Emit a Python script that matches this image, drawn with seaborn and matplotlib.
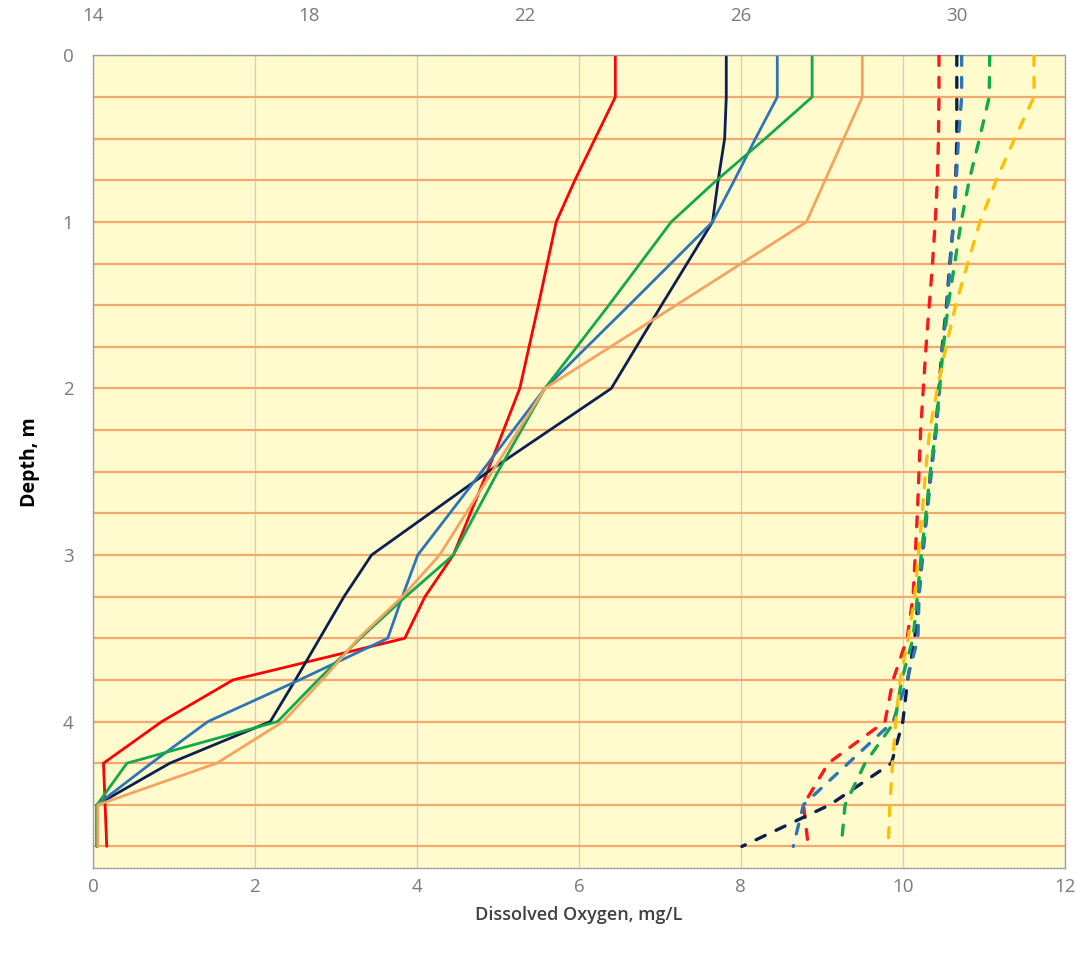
import matplotlib
matplotlib.use("Agg")
import matplotlib.pyplot as plt
import numpy as np
import pandas as pd
import seaborn as sns

# ---- data -------------------------------------------------------------
profiles = ["Profile A", "Profile B", "Profile C", "Profile D", "Profile E"]

# dissolved oxygen profiles (mg/L) vs depth (m)
do_depth = [0, 0.25, 0.5, 0.75, 1.0, 1.5, 2.0, 2.5, 3.0, 3.25, 3.5, 3.75,
            4.0, 4.25, 4.5, 4.75]
do_a = [6.45, 6.45, 6.20, 5.95, 5.72, 5.50, 5.27, 4.87, 4.45, 4.10, 3.85,
        1.73, 0.85, 0.13, 0.15, 0.17]
do_b = [7.82, 7.82, 7.80, 7.72, 7.65, 7.02, 6.40, 4.88, 3.44, 3.10, 2.80,
        2.50, 2.19, 0.95, 0.05, 0.05]
do_c = [8.45, 8.45, 8.18, 7.92, 7.65, 6.62, 5.58, 4.80, 4.01, 3.82, 3.64,
        2.55, 1.42, 0.72, 0.05, 0.05]
do_d = [8.88, 8.88, 8.30, 7.70, 7.14, 6.37, 5.58, 5.00, 4.45, 3.86, 3.30,
        2.78, 2.28, 0.42, 0.05, 0.05]
do_e = [9.50, 9.50, 9.27, 9.04, 8.81, 7.20, 5.58, 4.93, 4.28, 3.82, 3.28,
        2.83, 2.35, 1.53, 0.06, 0.06]

# water temperature profiles (deg C) vs depth (m)
t_depth = [0, 0.25, 0.5, 0.75, 1.0, 1.25, 1.5, 1.75, 2.0, 2.25, 2.5, 2.75,
           3.0, 3.25, 3.5, 3.75, 4.0, 4.25, 4.5, 4.75]
t_a = [29.67, 29.67, 29.66, 29.64, 29.60, 29.55, 29.49, 29.43, 29.38, 29.33,
       29.30, 29.27, 29.23, 29.19, 29.08, 28.82, 28.67, 27.62, 27.16, 27.25]
t_b = [30.00, 30.00, 30.00, 29.98, 29.94, 29.87, 29.81, 29.73, 29.67, 29.61,
       29.52, 29.44, 29.36, 29.29, 29.22, 29.09, 29.00, 28.79, 27.65, 26.02]
t_c = [30.09, 30.09, 30.03, 29.99, 29.94, 29.88, 29.82, 29.74, 29.68, 29.62,
       29.53, 29.45, 29.37, 29.30, 29.28, 29.08, 28.82, 27.99, 27.16, 26.97]
t_d = [30.61, 30.60, 30.42, 30.23, 30.08, 29.96, 29.84, 29.75, 29.68, 29.61,
       29.51, 29.43, 29.34, 29.27, 29.19, 28.98, 28.85, 28.30, 27.93, 27.86]
t_e = [31.43, 31.43, 31.07, 30.73, 30.43, 30.20, 29.98, 29.80, 29.64, 29.50,
       29.42, 29.36, 29.29, 29.22, 29.10, 28.95, 28.87, 28.81, 28.76, 28.73]

do_ticks = [0, 2, 4, 6, 8, 10, 12]
t_ticks = [14, 18, 22, 26, 30]
depth_ticks = [0, 1, 2, 3, 4]

do_colors = ["#ff0000", "#0d1f4f", "#2e75b6", "#13a84a", "#f4a460"]
t_colors = ["#ff1a1a", "#0d1f4f", "#2e75b6", "#13a84a", "#ffc000"]

# ---- long-form tables -------------------------------------------------
do_df = pd.concat(
    [pd.DataFrame({"profile": p, "depth": do_depth, "do": v})
     for p, v in zip(profiles, [do_a, do_b, do_c, do_d, do_e])],
    ignore_index=True)
t_df = pd.concat(
    [pd.DataFrame({"profile": p, "depth": t_depth, "temp": v})
     for p, v in zip(profiles, [t_a, t_b, t_c, t_d, t_e])],
    ignore_index=True)

# ---- style ------------------------------------------------------------
sns.set_theme(style="white")
plt.rcParams["font.family"] = ["Open Sans", "DejaVu Sans"]

fig = plt.figure(figsize=(10.81, 9.55), dpi=100)
ax = fig.add_axes([0.086, 0.091, 0.899, 0.851])
ax.set_facecolor("#fffbcc")

# dissolved oxygen: solid lines on the bottom axis
sns.lineplot(data=do_df, x="do", y="depth", hue="profile",
             palette=dict(zip(profiles, do_colors)), orient="y",
             sort=False, estimator=None, linewidth=2.0, legend=False, ax=ax)

ax.set_xlim(0, 12)
ax.set_ylim(4.88, 0)
ax.set_xticks(do_ticks)
ax.set_yticks(depth_ticks)
ax.set_yticks(np.arange(0.25, 4.8, 0.25), minor=True)

# grid: orange horizontal lines every 0.25 m, grey verticals every 2 mg/L
ax.grid(False)
ax.yaxis.grid(True, which="both", color="#f5a86e", linewidth=1.6)
ax.xaxis.grid(True, which="major", color="#cfcfcf", linewidth=0.9)
ax.set_axisbelow(True)

ax.tick_params(axis="both", which="both", length=0, labelsize=13.5,
               labelcolor="#7a7a7a")
ax.tick_params(axis="x", pad=7)
ax.tick_params(axis="y", pad=14)

for s in ax.spines.values():
    s.set_visible(True)
    s.set_color("#9a9a9a")
    s.set_linestyle((0, (1.2, 1.2)))
    s.set_linewidth(1.0)

ax.set_xlabel("Dissolved Oxygen, mg/L", fontsize=13, color="#404040",
              fontweight="semibold")
ax.set_ylabel("Depth, m", fontsize=14, color="black", fontweight="bold")
ax.xaxis.set_label_coords(0.5, -0.047)
ax.yaxis.set_label_coords(-0.054, 0.5)

# temperature: dashed lines on the top axis
ax2 = ax.twiny()
sns.lineplot(data=t_df, x="temp", y="depth", hue="profile",
             palette=dict(zip(profiles, t_colors)), orient="y",
             sort=False, estimator=None, linewidth=2.4, legend=False,
             linestyle=(0, (3.0, 3.6)), dash_capstyle="round", ax=ax2)
ax2.set_xlim(14, 32)
ax2.set_ylim(4.88, 0)
ax2.set_xticks(t_ticks)
ax2.set_xlabel("")
ax2.set_ylabel("")
ax2.tick_params(axis="x", length=0, labelsize=13.5, labelcolor="#7a7a7a",
                pad=22)
ax2.grid(False)
for s in ax2.spines.values():
    s.set_visible(False)

fig.savefig("out.png", dpi=100, facecolor="white")
